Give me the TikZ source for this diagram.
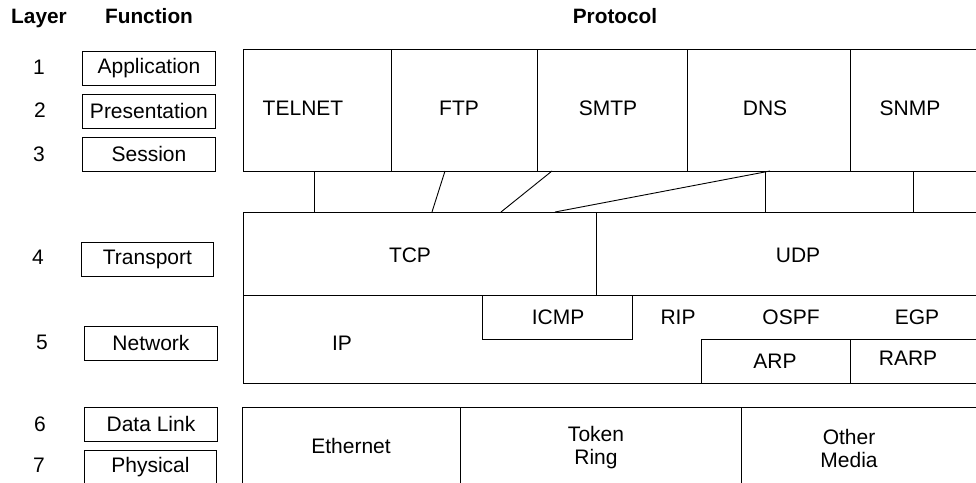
\documentclass[tikz,border=0pt]{standalone}
\usepackage{fontspec}
\setmainfont{Liberation Sans}
\newcommand{\bodyfont}{\fontsize{21}{23}\selectfont}
\newcommand{\hdrfont}{\fontsize{20.8}{23}\selectfont\bfseries}
\begin{document}
\begin{tikzpicture}[x=1pt,y=-1pt,
  line width=0.9pt,
  fbox/.style={draw, line width=0.9pt, minimum width=133pt, minimum height=34pt, inner sep=0pt, font=\bodyfont},
  lbl/.style={font=\bodyfont, inner sep=0pt, align=center},
  num/.style={font=\bodyfont, inner sep=0pt},
  hdr/.style={font=\hdrfont, inner sep=0pt, anchor=base}]
\useasboundingbox (0,0) rectangle (976,482);
% headers
\node[hdr] (hLayer) at (39,23.5) {Layer};
\node[hdr] (hFunc) at (149,23.5) {Function};
\node[hdr] (hProt) at (615,23.5) {Protocol};
% layer numbers
\node[num] (n1) at (39,67) {1};
\node[num] (n2) at (40,110) {2};
\node[num] (n3) at (39,154) {3};
\node[num] (n4) at (38,257) {4};
\node[num] (n5) at (42,342) {5};
\node[num] (n6) at (40,424) {6};
\node[num] (n7) at (39,465) {7};
% function boxes
\node[fbox, anchor=north west] (fApp) at (82,51) {Application};
\node[fbox, anchor=north west] (fPres) at (82,94) {Presentation};
\node[fbox, anchor=north west] (fSess) at (82,137) {Session};
\node[fbox, anchor=north west, minimum width=132pt] (fTrans) at (81,242) {Transport};
\node[fbox, anchor=north west] (fNet) at (84,326) {Network};
\node[fbox, anchor=north west] (fData) at (84,407) {Data Link};
\node[fbox, anchor=north west, minimum width=132pt] (fPhys) at (84,450) {Physical};
% application layer protocols
\draw (243,49) rectangle (995,171);
\draw (391,49) -- (391,171);
\draw (537,49) -- (537,171);
\draw (687,49) -- (687,171);
\draw (850,49) -- (850,171);
\node[lbl] (telnet) at (303,108) {TELNET};
\node[lbl] (ftp) at (459,108) {FTP};
\node[lbl] (smtp) at (608,108) {SMTP};
\node[lbl] (dns) at (765,108) {DNS};
\node[lbl] (snmp) at (910,108) {SNMP};
% transport layer
\draw (243,212) rectangle (995,295);
\draw (596,212) -- (596,295);
\node[lbl] (tcp) at (410,255) {TCP};
\node[lbl] (udp) at (798,255) {UDP};
% connectors
\coordinate (cTelA) at (314,171); \coordinate (cTelB) at (314,212);
\coordinate (cFtpA) at (445,171); \coordinate (cFtpB) at (432,212);
\coordinate (cSmtpA) at (552,171); \coordinate (cSmtpB) at (501,212);
\coordinate (cDnsA) at (770,171); \coordinate (cDnsB) at (555,212);
\coordinate (cU1A) at (765,171); \coordinate (cU1B) at (765,212);
\coordinate (cU2A) at (913,171); \coordinate (cU2B) at (913,212);
\draw (cTelA) -- (cTelB);
\draw (cFtpA) -- (cFtpB);
\draw (cSmtpA) -- (cSmtpB);
\draw (cDnsA) -- (cDnsB);
\draw (cU1A) -- (cU1B);
\draw (cU2A) -- (cU2B);
% network layer
\draw (243,295) rectangle (995,383);
\draw (482,295) rectangle (632,339);
\draw (701,383) -- (701,339) -- (995,339);
\draw (850,339) -- (850,383);
\node[lbl] (ip) at (342,343) {IP};
\node[lbl] (icmp) at (558,317) {ICMP};
\node[lbl] (rip) at (678,317) {RIP};
\node[lbl] (ospf) at (791,317) {OSPF};
\node[lbl] (egp) at (917,317) {EGP};
\node[lbl] (arp) at (775,361) {ARP};
\node[lbl] (rarp) at (908,358) {RARP};
% data link / physical
\draw (242,407) rectangle (995,500);
\draw (460,407) -- (460,500);
\draw (741,407) -- (741,500);
\node[lbl] (eth) at (351,446) {Ethernet};
\node[lbl] (token) at (596,448) {Token\\Ring};
\node[lbl] (other) at (849,448) {Other\\Media};
\end{tikzpicture}
\end{document}
